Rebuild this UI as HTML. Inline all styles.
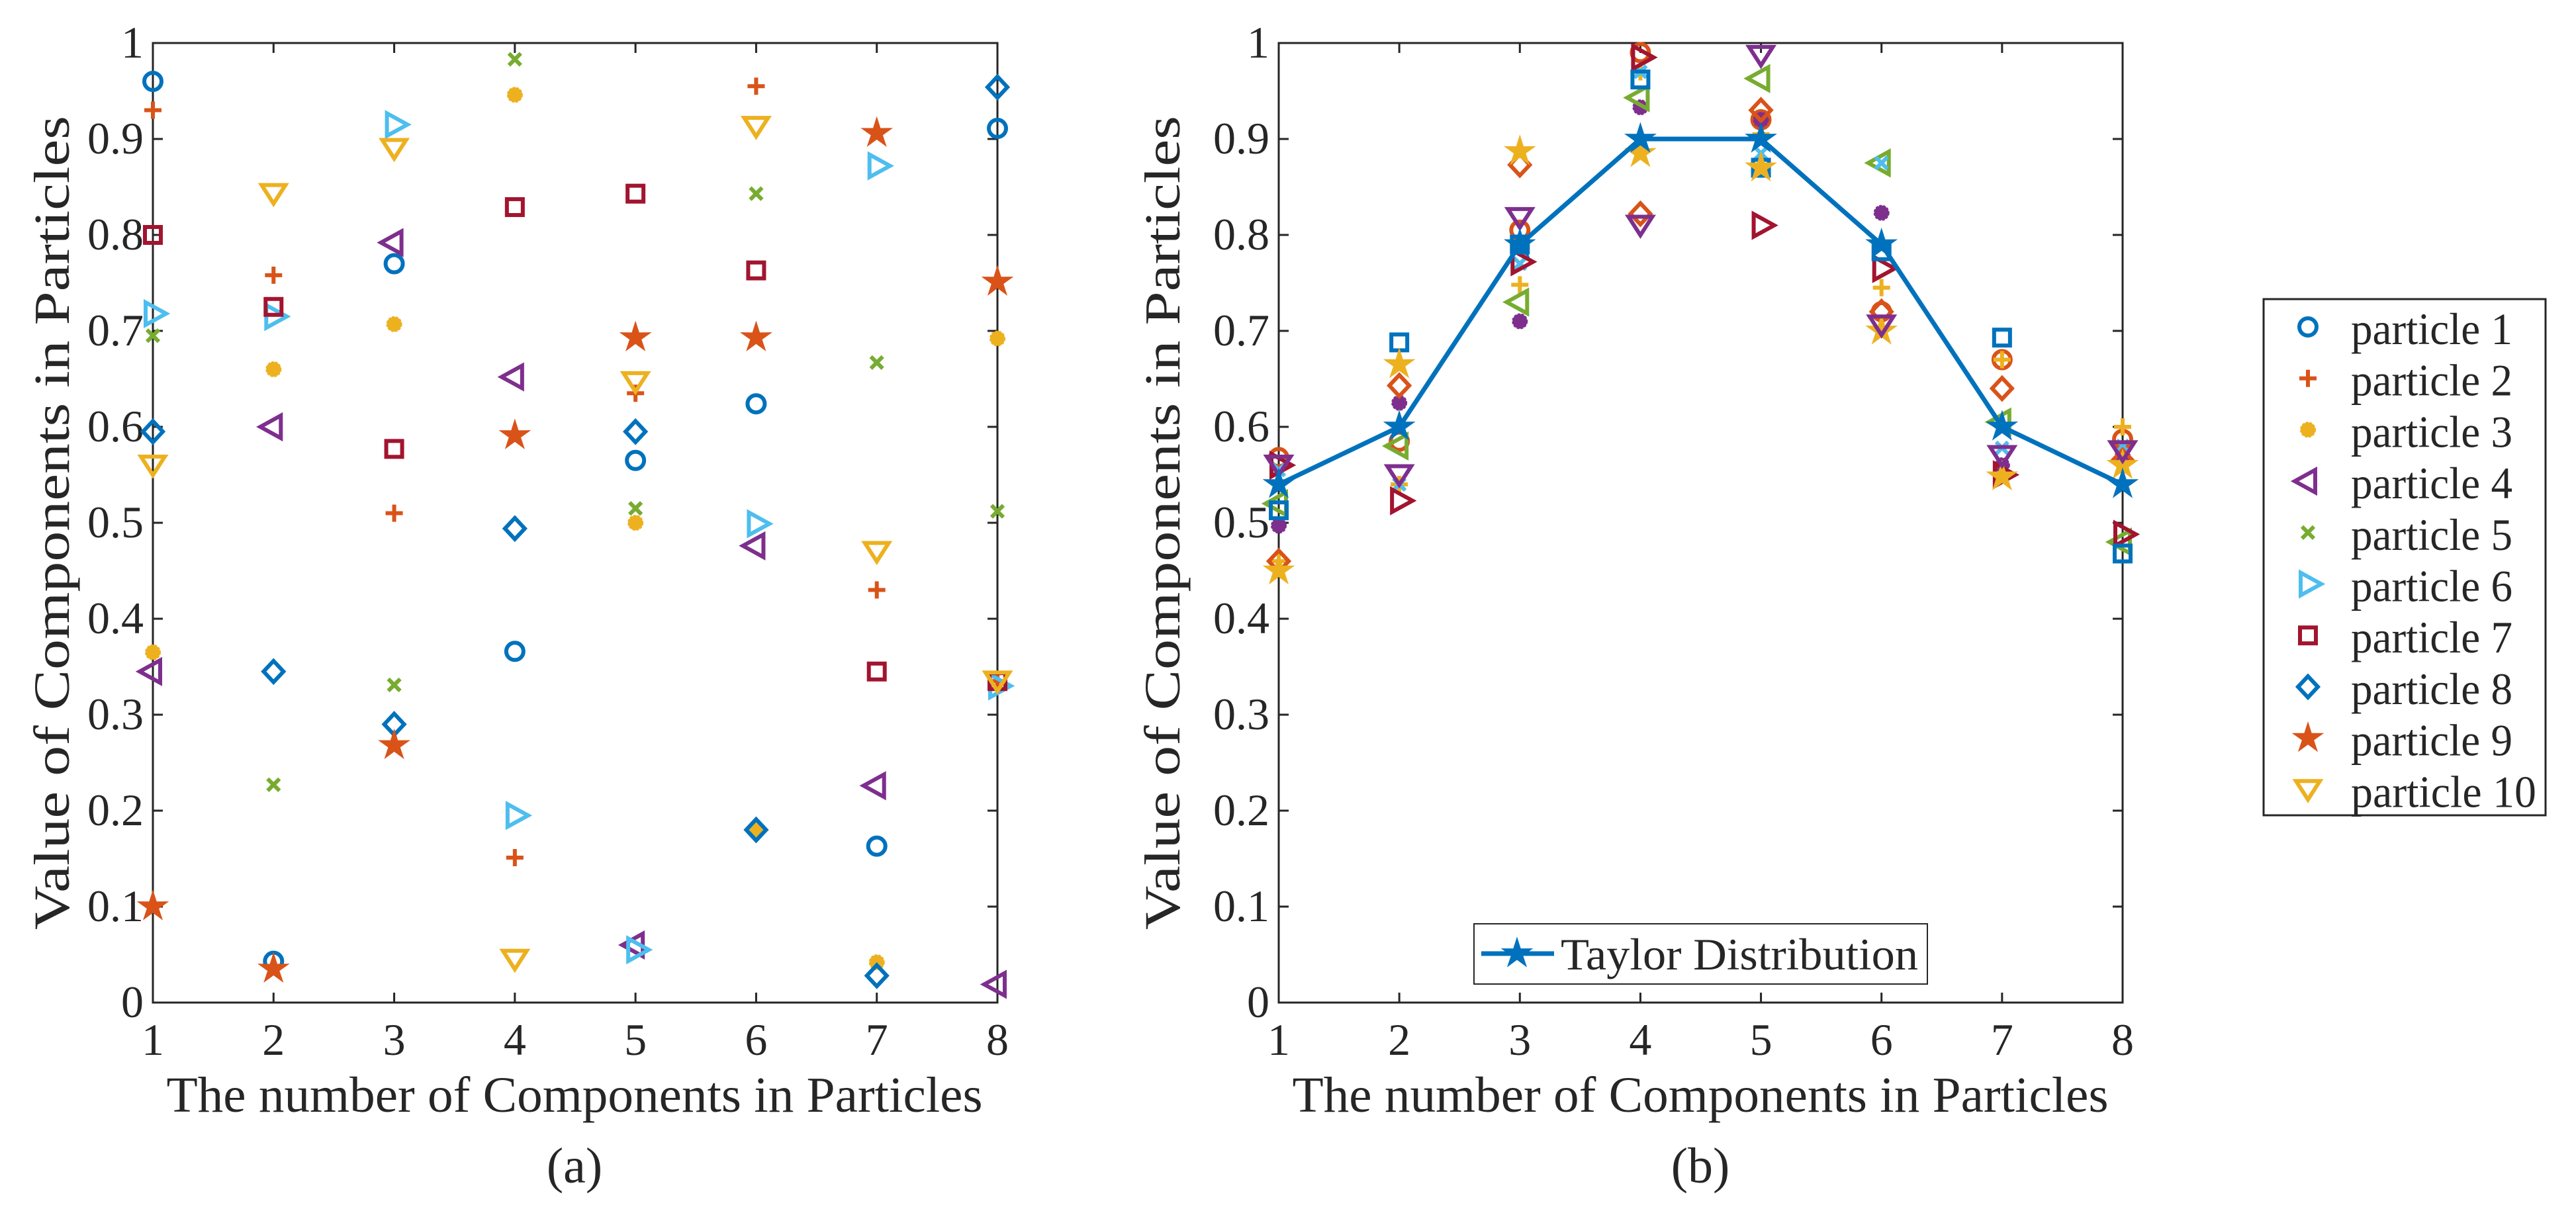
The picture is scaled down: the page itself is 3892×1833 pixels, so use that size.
<!DOCTYPE html>
<html><head><meta charset="utf-8"><style>
html,body{margin:0;padding:0;background:#fff}
svg{display:block}
svg text{font-family:"Liberation Serif","Times New Roman","DejaVu Serif",serif;fill:#262626}
</style></head><body>
<svg id="fig" width="3892" height="1833" viewBox="0 0 3892 1833" xmlns="http://www.w3.org/2000/svg" font-family="Liberation Serif, DejaVu Serif, serif">
<g id="pa"></g>
<g id="pb"></g>
<g id="leg"></g>
</svg>
<script>
const categories = [1,2,3,4,5,6,7,8];
const yTicks = [0,0.1,0.2,0.3,0.4,0.5,0.6,0.7,0.8,0.9,1];
const yTickLabels = ["0","0.1","0.2","0.3","0.4","0.5","0.6","0.7","0.8","0.9","1"];
const seriesNames = ["particle 1","particle 2","particle 3","particle 4","particle 5","particle 6","particle 7","particle 8","particle 9","particle 10"];
// panel (a) values, per particle across components 1..8
const a1 = [0.96,0.043,0.77,0.366,0.565,0.624,0.163,0.911];
const a2 = [0.93,0.758,0.51,0.151,0.635,0.955,0.43,0.335];
const a3 = [0.365,0.66,0.707,0.946,0.50,0.18,0.042,0.692];
const a4 = [0.345,0.60,0.792,0.652,0.06,0.476,0.226,0.019];
const a5 = [0.695,0.227,0.331,0.983,0.515,0.843,0.667,0.512];
const a6 = [0.718,0.715,0.915,0.195,0.055,0.499,0.872,0.33];
const a7 = [0.80,0.725,0.577,0.829,0.843,0.763,0.345,0.335];
const a8 = [0.595,0.345,0.29,0.494,0.595,0.18,0.028,0.954];
const a9 = [0.10,0.035,0.268,0.591,0.693,0.693,0.906,0.751];
const a10 = [0.56,0.843,0.89,0.045,0.647,0.913,0.47,0.335];
// panel (b) values
const b1 = [0.568,0.585,0.805,0.99,0.92,0.72,0.67,0.587];
const b2 = [0.46,0.54,0.748,0.97,0.905,0.745,0.67,0.60];
const b3 = [0.497,0.625,0.71,0.933,0.92,0.823,0.56,0.57];
const b4 = [0.52,0.58,0.73,0.943,0.963,0.875,0.605,0.48];
const b5 = [0.555,0.54,0.77,0.97,0.885,0.875,0.578,0.58];
const b6 = [0.56,0.523,0.772,0.985,0.81,0.765,0.55,0.488];
const b7 = [0.513,0.688,0.79,0.962,0.87,0.783,0.693,0.468];
const b8 = [0.46,0.643,0.873,0.822,0.93,0.72,0.64,0.565];
const b9 = [0.45,0.665,0.887,0.885,0.87,0.70,0.548,0.56];
const b10 = [0.56,0.55,0.818,0.81,0.987,0.706,0.57,0.575];
const taylor = [0.54,0.60,0.79,0.90,0.90,0.79,0.60,0.54];

const C = {blue:"#0072BD",orange:"#D95319",yellow:"#EDB120",purple:"#7E2F8E",green:"#77AC30",lblue:"#4DBEEE",red:"#A2142F"};
const NS="http://www.w3.org/2000/svg";
const FF="Liberation Serif, DejaVu Serif, serif";
function mk(tag,attrs,parent){const e=document.createElementNS(NS,tag);for(const k in attrs)e.setAttribute(k,attrs[k]);if(tag==="text")e.setAttribute("font-family",FF);parent.appendChild(e);return e;}

function marker(g,type,color,cx,cy){
  let e; const sw=6;
  if(type==="o"){e=mk("circle",{cx:cx,cy:cy,r:13,fill:"none",stroke:color,"stroke-width":sw},g);}
  else if(type==="+"){e=mk("path",{d:`M${cx-13},${cy}H${cx+13}M${cx},${cy-13}V${cy+13}`,stroke:color,"stroke-width":sw,fill:"none"},g);}
  else if(type==="x"){e=mk("path",{d:`M${cx-9},${cy-9}L${cx+9},${cy+9}M${cx+9},${cy-9}L${cx-9},${cy+9}`,stroke:color,"stroke-width":sw,fill:"none"},g);}
  else if(type==="*"){e=mk("circle",{cx:cx,cy:cy,r:11,fill:color,stroke:color,"stroke-width":2,"stroke-dasharray":"4 2"},g);}
  else if(type==="<"){e=mk("path",{d:`M${cx-20},${cy}L${cx+11},${cy-17}L${cx+11},${cy+17}Z`,stroke:color,"stroke-width":sw,fill:"none"},g);}
  else if(type===">"){e=mk("path",{d:`M${cx+20},${cy}L${cx-11},${cy-17}L${cx-11},${cy+17}Z`,stroke:color,"stroke-width":sw,fill:"none"},g);}
  else if(type==="v"){e=mk("path",{d:`M${cx},${cy+15}L${cx-18},${cy-13}L${cx+18},${cy-13}Z`,stroke:color,"stroke-width":sw,fill:"none"},g);}
  else if(type==="s"){e=mk("rect",{x:cx-12,y:cy-12,width:24,height:24,stroke:color,"stroke-width":sw,fill:"none"},g);}
  else if(type==="d"){e=mk("path",{d:`M${cx},${cy-16}L${cx+15},${cy}L${cx},${cy+16}L${cx-15},${cy}Z`,stroke:color,"stroke-width":sw,fill:"none"},g);}
  else if(type==="p"){let d="";for(let i=0;i<10;i++){const r=i%2?9:24;const a=-Math.PI/2+i*Math.PI/5;d+=(i?"L":"M")+(cx+r*Math.cos(a)).toFixed(1)+","+(cy+r*Math.sin(a)).toFixed(1);}e=mk("path",{d:d+"Z",fill:color,stroke:color,"stroke-width":1},g);}
  return e;
}

function axes(g,L,R,T,B,ylabelX,labelCx,panelLabel){
  const sx=v=>L+(v-1)/7*(R-L);
  const sy=v=>B-v*(B-T);
  const box=mk("rect",{x:L,y:T,width:R-L,height:B-T,fill:"none",stroke:"#262626","stroke-width":3},g);
  
  
  categories.forEach(c=>{
    const x=sx(c);
    mk("path",{d:`M${x},${B}V${B-15}M${x},${T}V${T+15}`,stroke:"#262626","stroke-width":3},g);
    const t=mk("text",{x:x,y:1594,"font-size":68,"text-anchor":"middle"},g);t.textContent=c;
    
    
  });
  yTicks.forEach((v,i)=>{
    const y=sy(v);
    mk("path",{d:`M${L},${y}H${L+15}M${R},${y}H${R-15}`,stroke:"#262626","stroke-width":3},g);
    const t=mk("text",{x:L-14,y:y+22,"font-size":68,"text-anchor":"end"},g);t.textContent=yTickLabels[i];
    
    
  });
  const xl=mk("text",{x:labelCx,y:1680,"font-size":76,"text-anchor":"middle",textLength:1233,lengthAdjust:"spacingAndGlyphs"},g);
  xl.textContent="The number of Components in Particles";
  
  
  const yl=mk("text",{x:0,y:0,"font-size":76,"text-anchor":"middle",textLength:1230,lengthAdjust:"spacingAndGlyphs",transform:`translate(${ylabelX},${(T+B)/2}) rotate(-90)`},g);
  yl.textContent="Value of Components in Particles";
  
  
  const pl=mk("text",{x:labelCx,y:1787,"font-size":76,"text-anchor":"middle"},g);
  pl.textContent=panelLabel;
  
  
  return {sx,sy};
}

// Panel A
const ga=document.getElementById("pa");
const A=axes(ga,231,1507,65,1515,104,868,"(a)");
const aSeries=[a1,a2,a3,a4,a5,a6,a7,a8,a9,a10];
const aTypes=["o","+","*","<","x",">","s","d","p","v"];
const aColors=[C.blue,C.orange,C.yellow,C.purple,C.green,C.lblue,C.red,C.blue,C.orange,C.yellow];
aSeries.forEach((s,i)=>{
  s.forEach((v,j)=>{
    const m=marker(ga,aTypes[i],aColors[i],A.sx(categories[j]),A.sy(v));
    
    
  });
});

// Panel B
const gb=document.getElementById("pb");
const B=axes(gb,1932,3207,65,1515,1782,2569,"(b)");
const bSeries=[b1,b2,b3,b4,b5,b6,b7,b8,b9,b10];
const bTypes=["o","+","*","<","x",">","s","d","p","v"];
const bColors=[C.orange,C.yellow,C.purple,C.green,C.lblue,C.red,C.blue,C.orange,C.yellow,C.purple];
bSeries.forEach((s,i)=>{
  s.forEach((v,j)=>{
    const m=marker(gb,bTypes[i],bColors[i],B.sx(categories[j]),B.sy(v));
    
    
  });
});
const tl=mk("polyline",{points:taylor.map((v,j)=>B.sx(categories[j])+","+B.sy(v)).join(" "),fill:"none",stroke:C.blue,"stroke-width":7},gb);


taylor.forEach((v,j)=>{
  const m=marker(gb,"p",C.blue,B.sx(categories[j]),B.sy(v));
  
  
});
// Taylor legend
const tleg=mk("g",{},gb);


mk("rect",{x:2227,y:1396,width:685,height:91,fill:"#fff",stroke:"#262626","stroke-width":2},tleg);
mk("line",{x1:2238,y1:1441,x2:2348,y2:1441,stroke:C.blue,"stroke-width":7},tleg);
marker(tleg,"p",C.blue,2292,1441);
const tt=mk("text",{x:2358,y:1465,"font-size":68,textLength:540,lengthAdjust:"spacingAndGlyphs"},tleg);tt.textContent="Taylor Distribution";

// Particle legend
const gl=document.getElementById("leg");
const lb=mk("rect",{x:3420,y:452,width:426,height:780,fill:"#fff",stroke:"#262626","stroke-width":3},gl);


seriesNames.forEach((n,i)=>{
  const y=494+i*77.7;
  const m=marker(gl,aTypes[i],aColors[i],3487,y);
  
  
  const t=mk("text",{x:3552,y:y+26,"font-size":68,textLength:(i===9?280:244),lengthAdjust:"spacingAndGlyphs"},gl);t.textContent=n;
  
  
});
</script>
</body></html>
